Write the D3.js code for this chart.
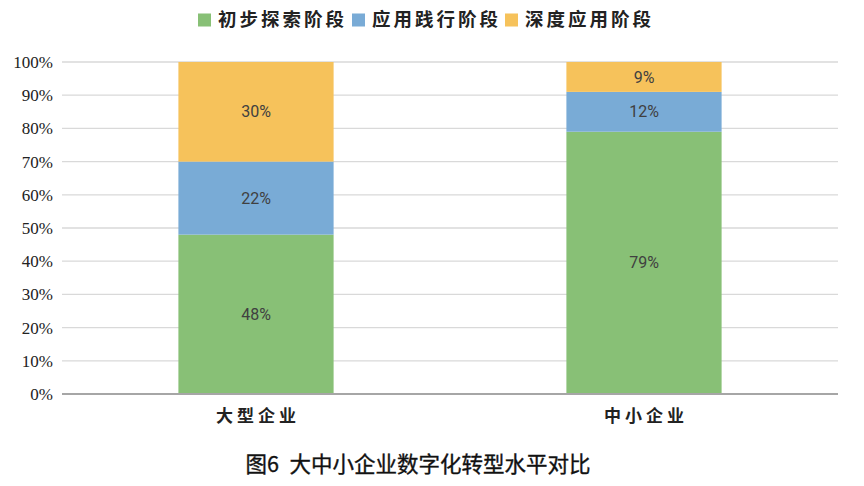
<!DOCTYPE html>
<html>
<head>
<meta charset="utf-8">
<script src="https://cdn.jsdelivr.net/npm/d3@7"></script>
<style>
  body { margin: 0; background: #fff; }
  svg { display: block; }
  text.serif { font-family: "Liberation Serif", "Times New Roman", Times, "DejaVu Serif", serif !important; }
</style>
</head>
<body>
<svg id="chart" width="864" height="486"></svg>
<script>
// data
var categories = ["大型企业", "中小企业"];
var seriesNames = ["初步探索阶段", "应用践行阶段", "深度应用阶段"];
var explore = [48, 79];
var practice = [22, 12];
var deep = [30, 9];
var yTicks = [0, 10, 20, 30, 40, 50, 60, 70, 80, 90, 100];
var chartTitle = "图6\u2002大中小企业数字化转型水平对比";

var colors = ["#88c076", "#79abd6", "#f6c25b"];
var seriesValues = [explore, practice, deep];

var svg = d3.select("#chart");
var margin = {left: 62, right: 26, top: 62, bottom: 92};
var width = 864, height = 486;

var rows = categories.map(function(c, i) {
  var r = {cat: c};
  seriesNames.forEach(function(s, j) { r[s] = seriesValues[j][i]; });
  return r;
});
var stacked = d3.stack().keys(seriesNames)(rows);

var x = d3.scaleBand()
  .domain(categories)
  .range([margin.left, width - margin.right])
  .paddingInner(0.6)
  .paddingOuter(0.3);

var y = d3.scaleLinear()
  .domain([0, 100])
  .range([height - margin.bottom, margin.top]);

// grid
svg.append("g").selectAll("line")
  .data(yTicks.filter(function(t) { return t > 0; }))
  .enter().append("line")
  .attr("x1", margin.left)
  .attr("x2", width - margin.right)
  .attr("y1", function(d) { return y(d); })
  .attr("y2", function(d) { return y(d); })
  .attr("stroke", "#d9d9d9")
  .attr("stroke-width", 1.3);

// y tick labels (drawn by hand from the scale so the serif font sticks)
svg.append("g").selectAll("text")
  .data(yTicks)
  .enter().append("text")
  .attr("class", "serif")
  .attr("x", margin.left - 9)
  .attr("y", function(d) { return y(d); })
  .attr("dy", "0.35em")
  .attr("text-anchor", "end")
  .attr("font-family", "Liberation Serif")
  .attr("font-size", 17)
  .attr("fill", "#222")
  .text(function(d) { return d + "%"; });

// bars
var layer = svg.append("g").selectAll("g")
  .data(stacked)
  .enter().append("g")
  .attr("fill", function(d, i) { return colors[i]; });

layer.selectAll("rect")
  .data(function(d) { return d; })
  .enter().append("rect")
  .attr("x", function(d) { return x(d.data.cat); })
  .attr("width", x.bandwidth())
  .attr("y", function(d) { return y(d[1]); })
  .attr("height", function(d) { return y(d[0]) - y(d[1]); });

// value labels
layer.selectAll("text")
  .data(function(d) { return d; })
  .enter().append("text")
  .attr("x", function(d) { return x(d.data.cat) + x.bandwidth() / 2; })
  .attr("y", function(d) { return (y(d[0]) + y(d[1])) / 2; })
  .attr("dy", "0.35em")
  .attr("text-anchor", "middle")
  .style("font-family", "Roboto, 'Noto Sans', sans-serif")
  .style("font-size", "16px")
  .attr("fill", "#404040")
  .text(function(d) { return (d[1] - d[0]) + "%"; });

// x axis line
svg.append("line")
  .attr("x1", margin.left)
  .attr("x2", width - margin.right)
  .attr("y1", y(0))
  .attr("y2", y(0))
  .attr("stroke", "#a6a6a6")
  .attr("stroke-width", 2);

// category labels
var xAxis = d3.axisBottom(x).tickSize(0).tickPadding(16);
var xg = svg.append("g")
  .attr("transform", "translate(0," + y(0) + ")")
  .call(xAxis);
xg.select(".domain").remove();
xg.attr("font-family", null).attr("font-size", null);
xg.selectAll("text")
  .attr("dx", "2px")
  .style("font-family", "'Noto Sans CJK SC', sans-serif")
  .style("font-size", "17px")
  .style("font-weight", "bold")
  .style("letter-spacing", "4px")
  .attr("fill", "#222");

// legend
var legendX = [198, 352, 505];
var legend = svg.append("g").selectAll("g")
  .data(seriesNames)
  .enter().append("g")
  .attr("transform", function(d, i) { return "translate(" + legendX[i] + ",20)"; });
legend.append("rect")
  .attr("x", 0).attr("y", -6.5)
  .attr("width", 13).attr("height", 13)
  .attr("fill", function(d, i) { return colors[i]; });
legend.append("text")
  .attr("x", 20)
  .attr("dy", "0.35em")
  .style("font-family", "'Noto Sans CJK SC', sans-serif")
  .style("font-size", "18.5px")
  .style("font-weight", "bold")
  .style("letter-spacing", "3px")
  .attr("fill", "#222")
  .text(function(d) { return d; });

// title
svg.append("text")
  .attr("x", 418)
  .attr("y", 464)
  .attr("dy", "0.35em")
  .attr("text-anchor", "middle")
  .style("font-family", "'Noto Sans CJK SC', sans-serif")
  .style("font-size", "21.5px")
  .style("font-weight", "400")
  .attr("fill", "#111")
  .attr("stroke", "#111")
  .attr("stroke-width", 0.35)
  .text(chartTitle);
</script>
</body>
</html>
